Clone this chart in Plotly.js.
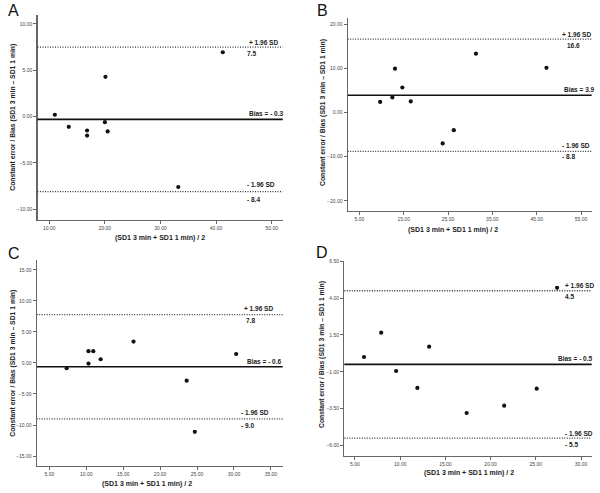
<!DOCTYPE html>
<html>
<head>
<meta charset="utf-8">
<script src="https://cdn.plot.ly/plotly-3.0.1.min.js"></script>
<style>html,body{margin:0;padding:0;background:#fff;}#chart{width:600px;height:493px;}</style>
</head>
<body>
<div id="chart"></div>
<script>
// ---- Data ----
const panelLabels = ["A", "B", "C", "D"];

const xA = [11.0, 13.5, 16.8, 16.8, 20.1, 20.0, 20.5, 33.2, 41.2];
const yA = [0.2, -1.1, -1.5, -2.05, 4.3, -0.6, -1.6, -7.6, 6.95];
const biasA = -0.3, upperA = 7.5, lowerA = -8.1;
const upperTextA = "7.5", biasTextA = "Bias = - 0.3", lowerTextA = "- 8.4";

const xB = [9.7, 12.45, 13.05, 14.7, 16.6, 23.8, 26.3, 31.3, 47.2];
const yB = [2.4, 3.4, 9.9, 5.65, 2.5, -7.0, -4.0, 13.3, 10.1];
const biasB = 3.9, upperB = 16.6, lowerB = -8.8;
const upperTextB = "16.6", biasTextB = "Bias = 3.9", lowerTextB = "- 8.8";

const xC = [7.35, 10.3, 10.3, 10.95, 11.95, 16.4, 23.6, 24.7, 30.3];
const yC = [-0.85, 1.9, -0.1, 1.9, 0.6, 3.45, -2.85, -11.1, 1.45];
const biasC = -0.6, upperC = 7.8, lowerC = -9.0;
const upperTextC = "7.8", biasTextC = "Bias = - 0.6", lowerTextC = "- 9.0";

const xD = [6.0, 7.9, 9.55, 11.9, 13.2, 17.35, 21.5, 25.1, 27.35];
const yD = [0.0, 1.65, -0.95, -2.1, 0.7, -3.8, -3.3, -2.15, 4.7];
const biasD = -0.5, upperD = 4.5, lowerD = -5.5;
const upperTextD = "4.5", biasTextD = "Bias = - 0.5", lowerTextD = "- 5.5";

const xTicksA = [10, 20, 30, 40, 50];
const yTicksA = [10, 5, 0, -5, -10];
const xTicksB = [5, 15, 25, 35, 45, 55];
const yTicksB = [20, 10, 0, -10, -20];
const xTicksC = [5, 10, 15, 20, 25, 30, 35];
const yTicksC = [15, 10, 5, 0, -5, -10, -15];
const xTicksD = [5, 10, 15, 20, 25, 30];
const yTicksD = [6.5, 4, 1.5, -1, -3.5, -6];

const upperLabel = "+ 1.96 SD";
const lowerLabel = "- 1.96 SD";
const xTitle = "(SD1 3 min + SD1 1 min) / 2";
const yTitle = "Constant error / Bias (SD1 3 min \u2013 SD1 1 min)";

// ---- Layout helpers ----
const W = 600, H = 493;
const px = v => v / W;
const py = v => 1 - v / H;
const FONT = "Liberation Sans, Arial, sans-serif";

const panels = [
  {x: xA, y: yA, bias: biasA, up: upperA, lo: lowerA, upT: upperTextA, biT: biasTextA, loT: lowerTextA,
   xt: xTicksA, yt: yTicksA, xr: [7.88, 51.98], yr: [-11.16, 10.97],
   dom: [[37.5, 282.7], [15, 220]],
   lab: {up: [0.854, 4.5], upv: [0.846, -6], bi: [0.854, 6], lo: [0.846, 7], lov: [0.846, -8]},
   letter: [6, 10], yTitle: [12.7, 117], xTitle: [160, 238]},
  {x: xB, y: yB, bias: biasB, up: upperB, lo: lowerB, upT: upperTextB, biT: biasTextB, loT: lowerTextB,
   xt: xTicksB, yt: yTicksB, xr: [2.38, 57.4], yr: [-22.2, 21.3],
   dom: [[347.7, 591.7], [18.3, 210.7]],
   lab: {up: [0.87, 5], upv: [0.89, -6], bi: [0.878, 6], lo: [0.87, 6], lov: [0.87, -5]},
   letter: [315, 10], yTitle: [323, 113], xTitle: [453, 230]},
  {x: xC, y: yC, bias: biasC, up: upperC, lo: lowerC, upT: upperTextC, biT: biasTextC, loT: lowerTextC,
   xt: xTicksC, yt: yTicksC, xr: [3.29, 36.6], yr: [-16.56, 16.6],
   dom: [[36.7, 282.7], [260, 465.7]],
   lab: {up: [0.835, 6.5], upv: [0.843, -6], bi: [0.847, 5], lo: [0.823, 6], lov: [0.823, -7]},
   letter: [6, 254], yTitle: [12.7, 363], xTitle: [147, 484]},
  {x: xD, y: yD, bias: biasD, up: upperD, lo: lowerD, upT: upperTextD, biT: biasTextD, loT: lowerTextD,
   xt: xTicksD, yt: yTicksD, xr: [3.82, 31.18], yr: [-6.7, 6.52],
   dom: [[344.3, 591.7], [261, 455.7]],
   lab: {up: [0.884, 5], upv: [0.884, -6], bi: [0.856, 6], lo: [0.884, 5], lov: [0.884, -6]},
   letter: [314, 252], yTitle: [322, 355], xTitle: [469, 473]}
];

const data = [];
const shapes = [];
const annotations = [];
const layout = {
  width: W, height: H,
  margin: {l: 0, r: 0, t: 0, b: 0},
  paper_bgcolor: "#fff", plot_bgcolor: "#fff",
  showlegend: false,
  font: {family: FONT, color: "#222"}
};

panels.forEach((p, i) => {
  const n = i === 0 ? "" : String(i + 1);
  const xa = "x" + n, ya = "y" + n;
  data.push({
    type: "scatter", mode: "markers", x: p.x, y: p.y, xaxis: xa, yaxis: ya,
    marker: {color: "#111", size: 4.2}, hoverinfo: "skip"
  });
  const axisCommon = {
    showline: true, linecolor: "#666", linewidth: 1.2, mirror: false,
    showgrid: false, zeroline: false, ticks: "outside", ticklen: 3, tickwidth: 1,
    tickcolor: "#666", tickfont: {size: 5, color: "#444", family: FONT},
    tickmode: "array", tickformat: ".2f", fixedrange: true
  };
  layout["xaxis" + n] = Object.assign({}, axisCommon, {
    domain: [px(p.dom[0][0]), px(p.dom[0][1])], range: p.xr, tickvals: p.xt,
    anchor: ya
  });
  layout["yaxis" + n] = Object.assign({}, axisCommon, {
    domain: [py(p.dom[1][1]), py(p.dom[1][0])], range: p.yr, tickvals: p.yt,
    anchor: xa
  });
  const xdom = xa + " domain";
  shapes.push({type: "line", xref: xdom, yref: ya, x0: 0, x1: 1, y0: p.bias, y1: p.bias,
    line: {color: "#111", width: 1.6}});
  shapes.push({type: "line", xref: xdom, yref: ya, x0: 0, x1: 1, y0: p.up, y1: p.up,
    line: {color: "#333", width: 1.3, dash: "1px,1.5px"}});
  shapes.push({type: "line", xref: xdom, yref: ya, x0: 0, x1: 1, y0: p.lo, y1: p.lo,
    line: {color: "#333", width: 1.3, dash: "1px,1.5px"}});

  const ann = (txt, pos, yv) => annotations.push({
    text: "<b>" + txt + "</b>", xref: xdom, yref: ya, x: pos[0], y: yv, yshift: pos[1],
    xanchor: "left", yanchor: "middle", showarrow: false,
    font: {size: 6.5, color: "#222", family: FONT}
  });
  ann(upperLabel, p.lab.up, p.up);
  ann(p.upT, p.lab.upv, p.up);
  ann(p.biT, p.lab.bi, p.bias);
  ann(lowerLabel, p.lab.lo, p.lo);
  ann(p.loT, p.lab.lov, p.lo);

  annotations.push({
    text: panelLabels[i], xref: "paper", yref: "paper", x: px(p.letter[0]), y: py(p.letter[1]),
    xanchor: "left", yanchor: "middle", showarrow: false,
    font: {size: 16, color: "#111", family: FONT}
  });
  annotations.push({
    text: "<b>" + yTitle + "</b>", xref: "paper", yref: "paper", x: px(p.yTitle[0]), y: py(p.yTitle[1]),
    xanchor: "center", yanchor: "middle", textangle: -90, showarrow: false,
    font: {size: 6.8, color: "#222", family: FONT}
  });
  annotations.push({
    text: "<b>" + xTitle + "</b>", xref: "paper", yref: "paper", x: px(p.xTitle[0]), y: py(p.xTitle[1]),
    xanchor: "center", yanchor: "middle", showarrow: false,
    font: {size: 7, color: "#222", family: FONT}
  });
});

layout.shapes = shapes;
layout.annotations = annotations;

Plotly.newPlot("chart", data, layout, {displayModeBar: false, staticPlot: true});
</script>
</body>
</html>
